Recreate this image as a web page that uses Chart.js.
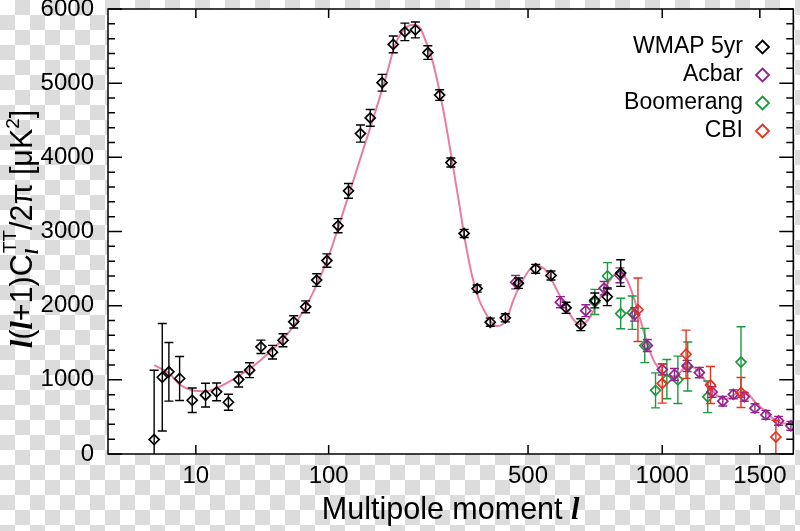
<!DOCTYPE html>
<html lang="en">
<head>
<meta charset="UTF-8">
<title>CMB temperature power spectrum</title>
<style>
    html, body { margin: 0; padding: 0; }
    body {
        width: 800px;
        height: 531px;
        overflow: hidden;
        background: repeating-conic-gradient(#dcdcdc 0% 25%, #ffffff 0% 50%) 0 0 / 30px 30px;
    }
    canvas { display: block; }
</style>
</head>
<body>
<canvas id="cmb" width="800" height="531"></canvas>

<script src="https://cdn.jsdelivr.net/npm/chart.js"></script>
<script>
// the x axis of the original is stretched as l^0.4, from l = 0 to 1700
const POW = 0.4;
const L_MAX = 1700;
const xTickLabels = [10, 100, 500, 1000, 1500];

// WMAP 5yr
const wmapL   = [2, 3, 4, 6, 9, 13, 17, 22, 27, 33, 40, 48, 56, 65, 76, 87, 98, 111, 124, 140, 154, 172, 190, 210, 229, 253, 277, 301, 331, 362, 395, 435, 472, 523, 571, 621, 672, 723, 770, 823];
const wmapVal = [195, 1035, 1108, 1018, 725, 793, 838, 698, 1004, 1130, 1445, 1373, 1534, 1782, 1985, 2345, 2608, 3078, 3548, 4320, 4532, 5006, 5523, 5691, 5718, 5413, 4840, 3930, 2974, 2230, 1777, 1836, 2303, 2497, 2407, 1971, 1744, 2070, 2120, 2440];
const wmapErr = [935, 725, 395, 297, 165, 160, 120, 108, 101, 100, 90, 92, 88, 83, 80, 85, 90, 95, 100, 115, 112, 113, 113, 118, 107, 92, 72, 61, 55, 48, 55, 55, 70, 60, 60, 75, 80, 100, 119, 180];

// Acbar
const acbarL   = [464, 602, 690, 758, 820, 880, 934, 1000, 1056, 1116, 1176, 1240, 1296, 1352, 1412, 1472, 1535, 1610, 1685];
const acbarVal = [2316, 2047, 1932, 2236, 2410, 1881, 1463, 1139, 1072, 1188, 1098, 836, 712, 804, 771, 618, 528, 447, 380];
const acbarErr = [90, 75, 80, 90, 100, 90, 80, 74, 80, 75, 70, 70, 65, 60, 60, 60, 60, 60, 60];

// Boomerang
const boomL   = [723, 771, 823, 870, 923, 970, 1021, 1072, 1119, 1218, 1394];
const boomVal = [2050, 2400, 1894, 1905, 1463, 858, 1009, 1000, 1180, 771, 1240];
const boomErr = [170, 180, 205, 225, 231, 236, 265, 320, 330, 213, 475];

// CBI
const cbiL   = [894, 1000, 1111, 1232, 1394, 1594];
const cbiVal = [1945, 951, 1345, 930, 829, 230];
const cbiErr = [428, 265, 325, 250, 203, 225];

// model curve
const modelL   = [2, 4, 6, 9, 13, 18, 24, 31, 39, 48, 58, 68, 83, 100, 120, 143, 162, 178, 194, 211, 223, 236, 248, 262, 275, 289, 304, 319, 334, 350, 366, 382, 399, 412, 435, 462, 491, 521, 552, 584, 618, 651, 670, 699, 736, 774, 813, 846, 867, 888, 909, 937, 966, 1003, 1030, 1056, 1085, 1111, 1140, 1168, 1195, 1218, 1245, 1270, 1300, 1322, 1350, 1376, 1413, 1440, 1468, 1500, 1526, 1560, 1605, 1650, 1700];
const modelVal = [1197, 1090, 937, 860, 847, 906, 1004, 1116, 1251, 1409, 1588, 1790, 2169, 2669, 3352, 4080, 4626, 5081, 5536, 5741, 5786, 5763, 5581, 5308, 4944, 4489, 3943, 3397, 2851, 2396, 2090, 1910, 1770, 1725, 1791, 2128, 2397, 2541, 2488, 2263, 1993, 1791, 1746, 1813, 2060, 2308, 2450, 2360, 2200, 1990, 1760, 1460, 1235, 1094, 1050, 1049, 1110, 1180, 1175, 1125, 1030, 937, 850, 779, 740, 744, 790, 825, 847, 800, 712, 640, 590, 510, 440, 410, 395];

const toX = l => Math.pow(l, POW);
const points = (ls, vs) => ls.map((l, i) => ({x: toX(l), y: vs[i]}));

const FONT = '"Liberation Sans", Arial, Helvetica, sans-serif';
const ellFont = s => 'bold italic ' + s + 'px "Liberation Serif", "Times New Roman", serif';
const TITLE = 30.5;
const SMALL = 19;

function diamond(ctx, x, y, r) {
    ctx.beginPath();
    ctx.moveTo(x, y - r);
    ctx.lineTo(x + r, y);
    ctx.lineTo(x, y + r);
    ctx.lineTo(x - r, y);
    ctx.closePath();
    ctx.stroke();
}

const errorBars = {
    id: 'errorBars',
    afterDatasetDraw(chart, args) {
        const ds = chart.data.datasets[args.index];
        if (!ds.errors) return;
        const ctx = chart.ctx, a = chart.chartArea, y = chart.scales.y;
        ctx.save();
        ctx.beginPath();
        ctx.rect(a.left, a.top, a.right - a.left, a.bottom - a.top);
        ctx.clip();
        ctx.strokeStyle = ds.borderColor;
        ctx.lineWidth = 1.4;
        ctx.beginPath();
        args.meta.data.forEach((pt, i) => {
            const v = ds.data[i].y, e = ds.errors[i];
            const y1 = y.getPixelForValue(v + e), y2 = y.getPixelForValue(v - e);
            ctx.moveTo(pt.x, y1); ctx.lineTo(pt.x, y2);
            ctx.moveTo(pt.x - 4.5, y1); ctx.lineTo(pt.x + 4.5, y1);
            ctx.moveTo(pt.x - 4.5, y2); ctx.lineTo(pt.x + 4.5, y2);
        });
        ctx.stroke();
        ctx.restore();
    }
};

// draws pieces of text one after another on baseline 0, returns the width
function runText(ctx, parts, x0, measureOnly) {
    let x = x0;
    parts.forEach(p => {
        if (p.sub !== undefined) {
            ctx.font = ellFont(SMALL);
            const w1 = ctx.measureText(p.sub).width;
            ctx.font = SMALL + 'px ' + FONT;
            const w2 = ctx.measureText(p.sup).width;
            if (!measureOnly) {
                ctx.font = ellFont(SMALL);
                ctx.fillText(p.sub, x, 6);
                ctx.font = SMALL + 'px ' + FONT;
                ctx.fillText(p.sup, x + 1, -16);
            }
            x += Math.max(w1, w2 + 1);
        } else if (p.sup !== undefined) {
            ctx.font = SMALL + 'px ' + FONT;
            if (!measureOnly) ctx.fillText(p.sup, x, -13);
            x += ctx.measureText(p.sup).width;
        } else {
            ctx.font = p.ell ? ellFont(TITLE) : TITLE + 'px ' + FONT;
            if (!measureOnly) ctx.fillText(p.t, x, 0);
            x += ctx.measureText(p.t).width;
        }
    });
    return x - x0;
}

const decorations = {
    id: 'decorations',
    beforeDraw(chart) {
        const {ctx, chartArea: a} = chart;
        ctx.save();
        ctx.fillStyle = '#ffffff';
        ctx.fillRect(a.left, a.top, a.right - a.left, a.bottom - a.top);
        ctx.restore();
    },
    afterDraw(chart) {
        const {ctx, chartArea: a, scales: {x, y}} = chart;
        ctx.save();
        ctx.strokeStyle = '#000';
        ctx.lineWidth = 1.5;
        ctx.strokeRect(a.left, a.top, a.right - a.left, a.bottom - a.top);

        // inward ticks on all four sides
        ctx.beginPath();
        for (let v = 0; v <= 6000; v += 200) {
            const py = y.getPixelForValue(v), len = v % 1000 === 0 ? 14 : 7;
            ctx.moveTo(a.left, py); ctx.lineTo(a.left + len, py);
            ctx.moveTo(a.right, py); ctx.lineTo(a.right - len, py);
        }
        xTickLabels.forEach(l => {
            const px = x.getPixelForValue(toX(l));
            ctx.moveTo(px, a.bottom); ctx.lineTo(px, a.bottom - 9);
            ctx.moveTo(px, a.top); ctx.lineTo(px, a.top + 9);
        });
        ctx.stroke();

        // legend, text on the left, marker on the right
        ctx.textAlign = 'right';
        ctx.textBaseline = 'alphabetic';
        ctx.font = '23px ' + FONT;
        chart.data.datasets.filter(d => d.errors).forEach((d, i) => {
            const base = 52.5 + i * 28;
            ctx.fillStyle = '#000';
            ctx.fillText(d.label, 743, base);
            ctx.strokeStyle = d.borderColor;
            ctx.lineWidth = 1.8;
            diamond(ctx, 762.5, base - 5.5, 6.5);
        });

        // axis titles
        ctx.fillStyle = '#000';
        ctx.textAlign = 'left';
        const xParts = [{t: 'Multipole moment '}, {t: 'l', ell: true}];
        ctx.save();
        ctx.translate((a.left + a.right) / 2, 519);
        const xw = runText(ctx, xParts, 0, true);
        runText(ctx, xParts, -xw / 2, false);
        ctx.restore();

        const yParts = [
            {t: 'l', ell: true}, {t: '('}, {t: 'l', ell: true}, {t: '+1)C'},
            {sub: 'l', sup: 'TT'}, {t: '/2\u03c0 [\u03bcK'}, {sup: '2'}, {t: ']'}
        ];
        ctx.save();
        ctx.translate(32, 229);
        ctx.rotate(-Math.PI / 2);
        const yw = runText(ctx, yParts, 0, true);
        runText(ctx, yParts, -yw / 2, false);
        ctx.restore();

        ctx.restore();
    }
};

new Chart(document.getElementById('cmb'), {
    type: 'line',
    data: {
        datasets: [
            {label: 'WMAP 5yr', data: points(wmapL, wmapVal), errors: wmapErr, borderColor: '#000000', order: 0},
            {label: 'Acbar', data: points(acbarL, acbarVal), errors: acbarErr, borderColor: '#93228f', order: 2},
            {label: 'Boomerang', data: points(boomL, boomVal), errors: boomErr, borderColor: '#1a9a3c', order: 3},
            {label: 'CBI', data: points(cbiL, cbiVal), errors: cbiErr, borderColor: '#e8321f', order: 1},
            {label: 'model', data: points(modelL, modelVal), borderColor: '#ec7ba4', borderWidth: 2,
             pointRadius: 0, showLine: true, cubicInterpolationMode: 'monotone', order: 4}
        ].map(d => d.errors ? Object.assign({
            showLine: false,
            pointStyle: 'rectRot',
            pointRadius: 5,
            pointBorderWidth: 1.7,
            pointBackgroundColor: 'rgba(0,0,0,0)',
            pointBorderColor: d.borderColor
        }, d) : d)
    },
    options: {
        responsive: false,
        animation: false,
        devicePixelRatio: 1,
        events: [],
        layout: {padding: {top: 9, right: 4, left: 0, bottom: 0}},
        plugins: {legend: {display: false}, tooltip: {enabled: false}},
        scales: {
            x: {
                type: 'linear',
                min: 0,
                max: toX(L_MAX),
                grid: {display: false, drawTicks: false},
                border: {display: false},
                afterBuildTicks: s => { s.ticks = xTickLabels.map(l => ({value: toX(l)})); },
                afterFit: s => { s.height = 77; s.paddingLeft = 0; s.paddingRight = 0; },
                ticks: {
                    autoSkip: false,
                    maxRotation: 0,
                    padding: 8,
                    color: '#000',
                    font: {family: FONT, size: 24},
                    callback: v => String(Math.round(Math.pow(v, 1 / POW)))
                }
            },
            y: {
                min: 0,
                max: 6000,
                grid: {display: false, drawTicks: false},
                border: {display: false},
                afterFit: s => { s.width = 108; s.paddingTop = 0; s.paddingBottom = 0; },
                ticks: {
                    stepSize: 1000,
                    padding: 14,
                    color: '#000',
                    font: {family: FONT, size: 24},
                    callback: v => String(v)
                }
            }
        }
    },
    plugins: [errorBars, decorations]
});
</script>
</body>
</html>
